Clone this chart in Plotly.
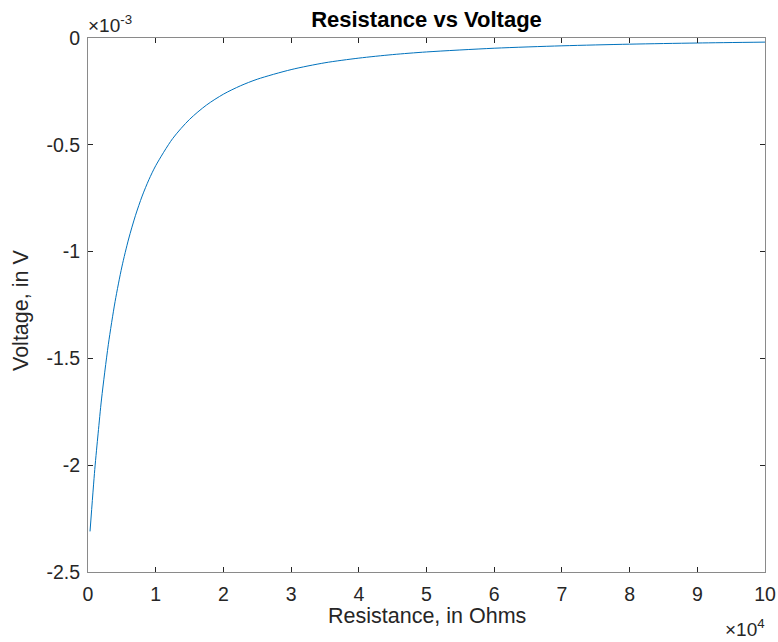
import plotly.graph_objects as go

# Resistance in units of 1e4 Ohms, voltage in units of 1e-3 V
resistance_e4 = [0.03, 0.1, 0.15, 0.2, 0.3, 0.4, 0.5, 0.6, 0.7, 0.8, 0.9, 1.0, 1.25, 1.5, 1.75,
                 2.0, 2.25, 2.5, 3.0, 3.5, 4.0, 4.5, 5.0, 6.0, 7.0, 8.0, 9.0, 10.0]
voltage_e3 = [-2.31, -2.02, -1.85, -1.69, -1.436, -1.234, -1.072, -0.941, -0.832, -0.740,
              -0.663, -0.598, -0.471, -0.381, -0.314, -0.263, -0.224, -0.193, -0.148, -0.116,
              -0.0942, -0.0777, -0.0653, -0.0479, -0.0366, -0.0289, -0.0234, -0.0193]

x_ticks = [0, 1, 2, 3, 4, 5, 6, 7, 8, 9, 10]
y_ticks = [0, -0.5, -1, -1.5, -2, -2.5]
y_tick_labels = ["0", "-0.5", "-1", "-1.5", "-2", "-2.5"]

R = [v * 1e4 for v in resistance_e4]
V = [v * 1e-3 for v in voltage_e3]

fig = go.Figure()
fig.add_trace(go.Scatter(x=R, y=V, mode="lines",
                         line=dict(color="#0072BD", width=1, shape="spline", smoothing=0.8),
                         showlegend=False, hoverinfo="skip"))

font = "Liberation Sans, Arial, Helvetica, sans-serif"
txt = "#262626"
axcommon = dict(showgrid=False, zeroline=False, showline=True, linecolor="#8a8a8a", linewidth=1,
                mirror="allticks", ticks="inside", ticklen=5, tickwidth=1.2, tickcolor=txt,
                tickfont=dict(family=font, size=19.5, color=txt), automargin=False)

W, H = 778, 642
fig.update_layout(
    width=W, height=H,
    paper_bgcolor="white", plot_bgcolor="white",
    margin=dict(l=88, r=13, t=38, b=70),
    title=dict(text="<b>Resistance vs Voltage</b>", x=0.5, xanchor="center", xref="paper",
               y=1 - 19.5 / H, yref="container", yanchor="middle",
               font=dict(family=font, size=22, color="black")),
    xaxis=dict(range=[0, 100000], tickvals=[t * 1e4 for t in x_ticks],
               ticktext=[str(t) for t in x_ticks], ticklabelstandoff=5,
               ticklabeloverflow="allow",
               **axcommon),
    yaxis=dict(range=[-2.5e-3, 0], tickvals=[t * 1e-3 for t in y_ticks],
               ticktext=y_tick_labels, ticklabelstandoff=3,
               **axcommon),
    annotations=[
        dict(text="Resistance, in Ohms", xref="paper", yref="paper", x=0.5, y=0,
             xanchor="center", yanchor="middle", yshift=-44, showarrow=False,
             font=dict(family=font, size=21.5, color=txt)),
        dict(text="Voltage, in V", xref="paper", yref="paper", x=0, y=0.5, textangle=-90,
             xanchor="center", yanchor="middle", xshift=-67, yshift=-6, showarrow=False,
             font=dict(family=font, size=21.5, color=txt)),
        dict(text="×10<sup>-3</sup>", xref="paper", yref="paper", x=0.0, y=1.0,
             xanchor="left", yanchor="bottom", showarrow=False, yshift=0, xshift=-2,
             font=dict(family=font, size=19, color=txt)),
        dict(text="×10<sup>4</sup>", xref="paper", yref="paper", x=1.0, y=0.0,
             xanchor="right", yanchor="top", showarrow=False, yshift=-42, xshift=2,
             font=dict(family=font, size=19, color=txt)),
    ],
)

fig.write_html("out.html", config={"displayModeBar": False},
               post_script="document.body.style.margin='0';document.body.style.overflow='hidden';")
